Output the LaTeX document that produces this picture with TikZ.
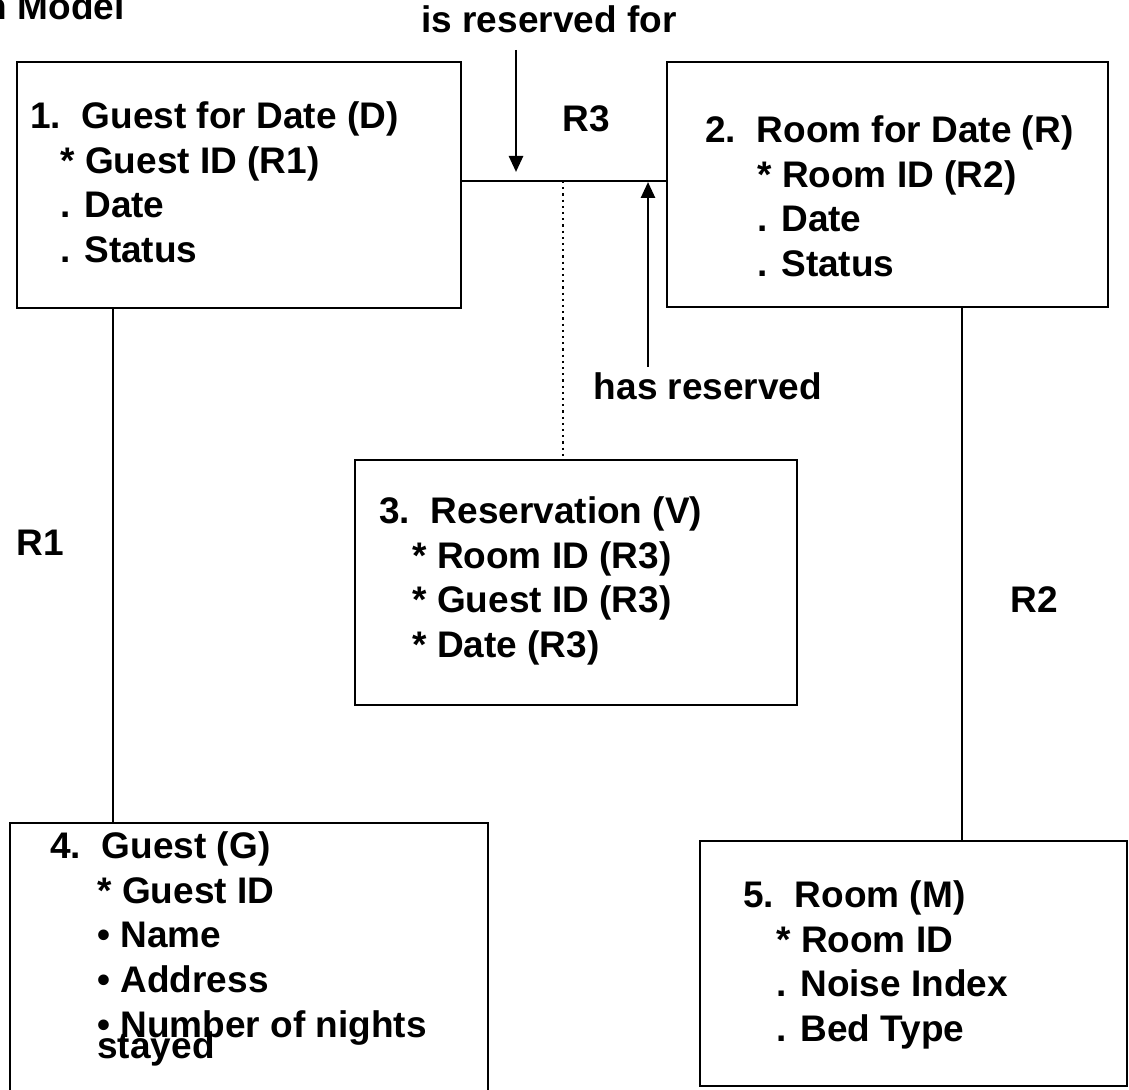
\documentclass[tikz,border=0pt]{standalone}
\usepackage{fontspec}
\setmainfont{Liberation Sans}
\usetikzlibrary{fit,arrows.meta}

\tikzset{
  entity/.style={draw, line width=1.3pt, inner sep=0pt},
  attrs/.style={anchor=north west, inner sep=0pt, align=left,
    font=\fontsize{18.5}{22.4}\selectfont\bfseries},
  lbl/.style={anchor=base, inner sep=0pt,
    font=\fontsize{18.5}{22.4}\selectfont\bfseries},
  rel/.style={line width=1.3pt},
  arr/.style={line width=1.3pt, -{Triangle[length=8pt,width=7pt]}},
}

\begin{document}
\begin{tikzpicture}[x=0.5pt, y=-0.5pt]
\useasboundingbox (0,0) rectangle (1129,1090);
\clip (0,0) rectangle (1129,1090);

% title, cut at the left edge
\node[lbl, anchor=base east] (title) at (125,20) {n Model};

% entities
\node[entity, fit={(17,62) (461,308)}] (gfd) {};
\node[entity, fit={(667,62) (1108,307)}] (rfd) {};
\node[entity, fit={(355,460) (797,705)}] (res) {};
\node[entity, fit={(10,823) (488,1110)}] (gst) {};
\node[entity, fit={(700,841) (1127,1086)}] (room) {};

\node[attrs] (gfdtxt) at (30,101) {1.~~Guest for Date (D)\\
  \hspace*{15pt}* Guest ID (R1)\\
  \hspace*{15pt}. Date\\
  \hspace*{15pt}. Status};
\node[attrs] (rfdtxt) at (705,115) {2.~~Room for Date (R)\\
  \hspace*{26pt}* Room ID (R2)\\
  \hspace*{26pt}. Date\\
  \hspace*{26pt}. Status};
\node[attrs] (restxt) at (379,496) {3.~~Reservation (V)\\
  \hspace*{16.5pt}* Room ID (R3)\\
  \hspace*{16.5pt}* Guest ID (R3)\\
  \hspace*{16.5pt}* Date (R3)};
\node[attrs] (gsttxt) at (50,831) {4.~~Guest (G)\\
  \hspace*{23.5pt}* Guest ID\\
  \hspace*{23.5pt}\textbullet\ Name\\
  \hspace*{23.5pt}\textbullet\ Address\\
  \hspace*{23.5pt}\textbullet\ Number of nights\\[-11.9pt]
  \hspace*{23.5pt}stayed};
\node[attrs] (roomtxt) at (743,880) {5.~~Room (M)\\
  \hspace*{16.5pt}* Room ID\\
  \hspace*{16.5pt}. Noise Index\\
  \hspace*{16.5pt}. Bed Type};

% relationships
\coordinate (r1) at (113,0);
\coordinate (r2) at (962,0);
\coordinate (r3) at (563,181);
\draw[rel] (r1 |- gfd.south) -- (r1 |- gst.north);
\draw[rel] (r2 |- rfd.south) -- (r2 |- room.north);
\draw[rel] (gfd.east |- r3) -- (rfd.west |- r3);
\draw[line width=1.1pt, dotted] (r3) -- (r3 |- res.north);

\node[lbl] (r1lbl) at (40,555) {R1};
\node[lbl] (r2lbl) at (1034,612) {R2};
\node[lbl] (r3lbl) at (586,132) {R3};

% roles
\node[lbl] (isres) at (549,33) {is reserved for};
\node[lbl] (hasres) at (708,400) {has reserved};
\coordinate (isrestip) at (516,172);
\coordinate (hasrestip) at (648,182);
\draw[arr] (isrestip |- isres.south) ++(0,16) -- (isrestip);
\draw[arr] (hasrestip |- hasres.north) ++(0,-6) -- (hasrestip);

\end{tikzpicture}
\end{document}
